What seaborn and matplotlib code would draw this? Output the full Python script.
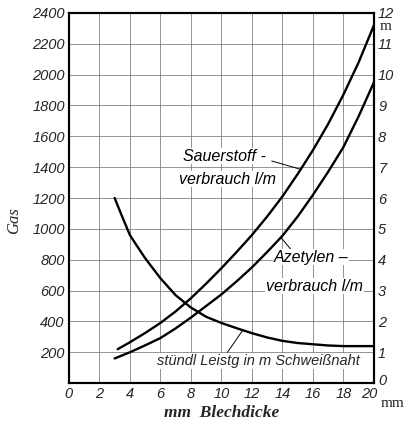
"""Gas consumption and welding output vs sheet thickness"""
import numpy as np
import pandas as pd
import matplotlib
matplotlib.use("Agg")
import matplotlib.pyplot as plt
import matplotlib.transforms as mtransforms
import seaborn as sns

# data
thickness = [3, 4, 5, 6, 7, 8, 9, 10, 11, 12, 13, 14, 15, 16, 17, 18, 19, 20]
sauerstoff = [200, 265, 325, 390, 465, 550, 645, 745, 850, 960, 1080, 1210,
              1355, 1510, 1680, 1870, 2080, 2320]
azetylen = [160, 200, 245, 292, 355, 425, 500, 575, 660, 750, 850, 955,
            1080, 1220, 1370, 1530, 1730, 1950]
leist_mm = [3, 3.5, 4, 4.5, 5, 6, 7, 8, 9, 10, 11, 12, 13, 14, 15, 16, 17,
            18, 19, 20]
leistung = [6.0, 5.39, 4.8, 4.42, 4.05, 3.4, 2.85, 2.45, 2.15, 1.95, 1.78,
            1.62, 1.48, 1.37, 1.30, 1.26, 1.22, 1.20, 1.20, 1.20]

x_ticks = list(range(0, 21, 2))
gas_ticks = list(range(200, 2401, 200))
m_ticks = list(range(0, 13))

df = pd.DataFrame({"mm": thickness, "sauer": sauerstoff, "azet": azetylen})
# oxygen curve starts a little right of 3 mm
df_sauer = pd.concat([pd.DataFrame({"mm": [3.2], "sauer": [220]}),
                      df.loc[df["mm"] >= 4, ["mm", "sauer"]]])
df_leist = pd.DataFrame({"mm": leist_mm, "leist": leistung})

sns.set_style("white")
num_font = ["Liberation Sans", "DejaVu Sans"]
serif_font = ["Liberation Serif", "DejaVu Serif"]

fig = plt.figure(figsize=(4.1, 4.3), dpi=100)
ax = fig.add_axes([0.168, 0.109, 0.744, 0.861])

# grid
for xv in x_ticks[1:-1]:
    ax.axvline(xv, color="#777777", lw=0.55, zorder=0)
for yv in gas_ticks[:-1]:
    ax.axhline(yv, color="#777777", lw=0.55, zorder=0)

sns.lineplot(data=df_sauer, x="mm", y="sauer", ax=ax, color="black", lw=1.7)
sns.lineplot(data=df, x="mm", y="azet", ax=ax, color="black", lw=1.7)

ax.set_xlim(0, 20)
ax.set_ylim(0, 2400)
ax.set_xticks(x_ticks)
ax.set_yticks(gas_ticks)
ax.set_xticklabels([str(v) for v in x_ticks], family=num_font,
                   style="italic", fontsize=10.5)
ax.set_yticklabels([str(v) for v in gas_ticks], family=num_font,
                   style="italic", fontsize=10.5)
ax.tick_params(length=0, pad=3)
ax.set_xlabel("mm  Blechdicke", family=serif_font, style="italic",
              weight="bold", fontsize=12.5, labelpad=3)
ax.set_ylabel("Gas", family=serif_font, style="italic", fontsize=12)
ax.yaxis.set_label_coords(-0.155, 0.44)

# last x label sits a bit left, next to the "mm"
lab20 = ax.get_xticklabels()[-1]
lab20.set_transform(lab20.get_transform() +
                    mtransforms.ScaledTranslation(-0.05, 0, fig.dpi_scale_trans))

ax2 = ax.twinx()
sns.lineplot(data=df_leist, x="mm", y="leist", ax=ax2, color="black", lw=1.7)
ax2.set_ylim(0, 12)
ax2.set_yticks(m_ticks)
ax2.set_yticklabels([str(v) for v in m_ticks], family=num_font,
                    style="italic", fontsize=10.5)
ax2.tick_params(length=0, pad=3)
ax2.set_ylabel("")
lab0 = ax2.get_yticklabels()[0]
lab0.set_transform(lab0.get_transform() +
                   mtransforms.ScaledTranslation(0, 0.04, fig.dpi_scale_trans))

for a in (ax, ax2):
    for s in a.spines.values():
        s.set_linewidth(1.5)
        s.set_color("black")

txt = dict(family=num_font, style="italic", fontsize=11.5, color="black")
box = dict(facecolor="white", edgecolor="none", pad=0.5)

# labels with leader lines
ax.text(10.2, 1472, "Sauerstoff -", ha="center", va="center", bbox=box, **txt)
ax.text(10.4, 1323, "verbrauch l/m", ha="center", va="center", bbox=box, **txt)
ax.plot([13.3, 15.2], [1440, np.interp(15.2, thickness, sauerstoff)],
        color="black", lw=0.7)

ax.text(15.9, 817, "Azetylen –", ha="center", va="center", bbox=box, **txt)
ax.text(16.1, 629, "verbrauch l/m", ha="center", va="center", bbox=box, **txt)
ax.plot([14.7, 13.9], [850, np.interp(13.9, thickness, azetylen)],
        color="black", lw=0.7)

ax.text(12.4, 143, "stündl Leistg in m Schweißnaht", ha="center",
        va="center", bbox=box, family=num_font, style="italic", fontsize=10.5)
ax.plot([10.4, 11.4], [200, np.interp(11.4, leist_mm, leistung) * 200],
        color="black", lw=0.7)

# unit marks
ax.text(1.02, 0.962, "m", transform=ax.transAxes, ha="left", va="center",
        family=serif_font, fontsize=11)
ax.text(1.022, -0.055, "mm", transform=ax.transAxes, ha="left", va="center",
        family=serif_font, fontsize=11)

fig.savefig("out.png", dpi=100)
